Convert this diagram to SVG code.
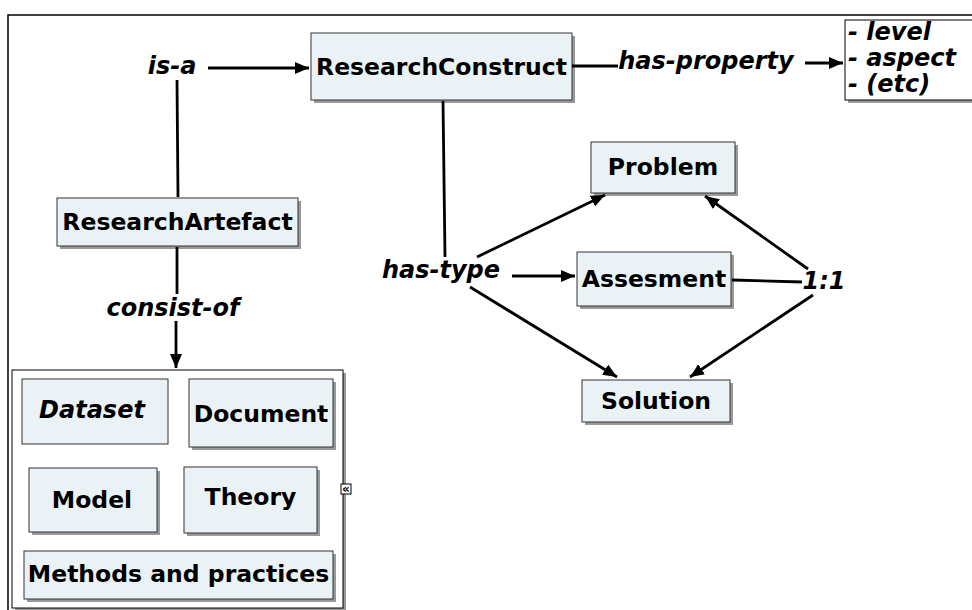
<svg xmlns="http://www.w3.org/2000/svg" width="972" height="610" viewBox="0 0 972 610">
<defs>
<marker id="ah" viewBox="0 0 14 12" refX="14" refY="6" markerWidth="14" markerHeight="12" markerUnits="userSpaceOnUse" orient="auto">
<path d="M0,0 L14,6 L0,12 z" fill="#000"/>
</marker>
</defs>
<style>
.box{fill:#eaf2f5;stroke:#333;stroke-width:1}
.sh{fill:#9a9a9a}
.t{font-family:"DejaVu Sans","Verdana",sans-serif;font-weight:bold;font-size:23.5px;fill:#000}
.lbl{font-family:"DejaVu Sans","Verdana",sans-serif;font-weight:bold;font-style:italic;font-size:24px;fill:#000}
.ln{stroke:#000;stroke-width:2.8;fill:none}
.ar{stroke:#000;stroke-width:2.8;fill:none;marker-end:url(#ah)}
</style>
<rect width="972" height="610" fill="#fff"/>
<path d="M8,610 L8,15 L972,15" fill="none" stroke="#000" stroke-width="1.5"/>

<g id="container">
<rect class="sh" x="15" y="373" width="331" height="238"/>
<rect x="12" y="370" width="331" height="238" fill="#fff" stroke="#000" stroke-width="1"/>
<rect x="341" y="484" width="10" height="10" fill="#fff" stroke="#000" stroke-width="1"/>
<text x="346" y="493" font-family="DejaVu Sans,sans-serif" font-weight="bold" font-size="12" text-anchor="middle">«</text>
</g>

<g id="ResearchConstruct">
<rect class="sh" x="314" y="36" width="261" height="67"/>
<rect class="box" x="311" y="33" width="261" height="67"/>
<text class="t" x="441.5" y="75" text-anchor="middle">ResearchConstruct</text>
</g>

<g id="properties">
<rect class="sh" x="848" y="23" width="130" height="80"/>
<rect x="845" y="20" width="130" height="80" fill="#fff" stroke="#000" stroke-width="1"/>
<text class="lbl" x="848" y="40">- level</text>
<text class="lbl" x="848" y="66">- aspect</text>
<text class="lbl" x="848" y="92">- (etc)</text>
</g>

<g id="ResearchArtefact">
<rect class="sh" x="60" y="201" width="241" height="48"/>
<rect class="box" x="57" y="198" width="241" height="48"/>
<text class="t" x="177.5" y="230" text-anchor="middle">ResearchArtefact</text>
</g>

<g id="Problem">
<rect class="sh" x="594" y="145" width="144" height="51"/>
<rect class="box" x="591" y="142" width="144" height="51"/>
<text class="t" x="663" y="175" text-anchor="middle">Problem</text>
</g>

<g id="Assesment">
<rect class="sh" x="580" y="255" width="154" height="54"/>
<rect class="box" x="577" y="252" width="154" height="54"/>
<text class="t" x="654" y="287" text-anchor="middle">Assesment</text>
</g>

<g id="Solution">
<rect class="sh" x="585" y="383" width="148" height="42"/>
<rect class="box" x="582" y="380" width="148" height="42"/>
<text class="t" x="656" y="409" text-anchor="middle">Solution</text>
</g>

<g id="Dataset">
<rect class="box" x="22" y="379" width="146" height="65"/>
<text class="lbl" x="92" y="418" text-anchor="middle">Dataset</text>
</g>

<g id="Document">
<rect class="sh" x="192" y="382" width="144" height="68"/>
<rect class="box" x="189" y="379" width="144" height="68"/>
<text class="t" x="261" y="422" text-anchor="middle">Document</text>
</g>

<g id="Model">
<rect class="sh" x="32" y="471" width="128" height="64"/>
<rect class="box" x="29" y="468" width="128" height="64"/>
<text class="t" x="92" y="508" text-anchor="middle">Model</text>
</g>

<g id="Theory">
<rect class="sh" x="187" y="470" width="133" height="66"/>
<rect class="box" x="184" y="467" width="133" height="66"/>
<text class="t" x="250.5" y="505" text-anchor="middle">Theory</text>
</g>

<g id="Methods">
<rect class="sh" x="27" y="554" width="309" height="48"/>
<rect class="box" x="24" y="551" width="309" height="48"/>
<text class="t" x="178.5" y="582" text-anchor="middle">Methods and practices</text>
</g>

<g id="connectors">
<text class="lbl" x="172" y="74" text-anchor="middle">is-a</text>
<line class="ar" x1="208" y1="68" x2="309" y2="68"/>
<line class="ln" x1="177" y1="80" x2="178" y2="197"/>
<line class="ln" x1="177" y1="247" x2="177" y2="294"/>
<text class="lbl" x="173" y="316" text-anchor="middle">consist-of</text>
<line class="ar" x1="176" y1="321" x2="176" y2="368"/>

<line class="ln" x1="572" y1="66" x2="618" y2="66"/>
<text class="lbl" x="706" y="69" text-anchor="middle">has-property</text>
<line class="ar" x1="805" y1="63" x2="843" y2="63"/>

<line class="ln" x1="443" y1="101" x2="445" y2="257"/>
<text class="lbl" x="441" y="278" text-anchor="middle">has-type</text>
<line class="ar" x1="512" y1="276" x2="575" y2="276"/>
<line class="ar" x1="477" y1="257" x2="605" y2="195"/>
<line class="ar" x1="470" y1="287" x2="617" y2="377"/>

<line class="ln" x1="732" y1="280" x2="802" y2="282"/>
<text class="lbl" x="824" y="289" text-anchor="middle">1:1</text>
<line class="ar" x1="808" y1="269" x2="705" y2="196"/>
<line class="ar" x1="813" y1="295" x2="690" y2="377"/>
</g>
</svg>
